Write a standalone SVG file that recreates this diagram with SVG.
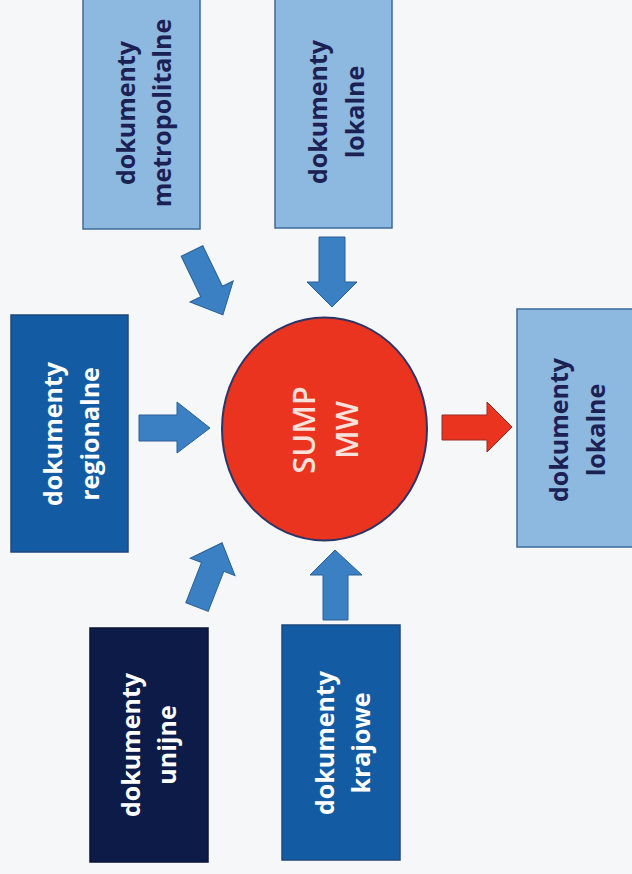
<svg xmlns="http://www.w3.org/2000/svg" width="632" height="874" viewBox="0 0 632 874">
<style>
.bg{fill:#f6f7f9}
.light{fill:#8db8e0;stroke:#3d6c9a;stroke-width:1.5}
.mid{fill:#135ba3;stroke:#1d4a7e;stroke-width:1.5}
.dark{fill:#0c1b47;stroke:#0a1535;stroke-width:1.5}
.arr{fill:#3b80c2;stroke:#2a5f95;stroke-width:1}
.red{fill:#eb3420;stroke:#9b2a24;stroke-width:1}
.ell{fill:#eb3420;stroke:#2c3566;stroke-width:2}
.t{font-family:"Open Sans","Liberation Sans",sans-serif;font-weight:bold;font-size:25px;text-anchor:middle}
.td{fill:#1b2152}
.tw{fill:#ffffff}
.tc{font-family:"Open Sans","Liberation Sans",sans-serif;font-weight:600;font-size:31px;text-anchor:middle;fill:#fbe1dc}
</style>
<rect class="bg" x="0" y="0" width="632" height="874"/>
<g id="connectors">
<g transform="translate(192,251) rotate(64.2)"><polygon class="arr" points="0,-12 45,-12 45,-24 71,0 45,24 45,12 0,12"/></g>
<polygon class="arr" points="319,237 345,237 345,282 357,282 332,307 307,282 319,282"/>
<polygon class="arr" points="139,415 177,415 177,402 210,428 177,453 177,441 139,441"/>
<g transform="translate(197,607) rotate(-68.7)"><polygon class="arr" points="0,-12 43,-12 43,-24 69,0 43,24 43,12 0,12"/></g>
<polygon class="arr" points="323,620 348,620 348,575 362,575 335,550 310,575 323,575"/>
<polygon class="red" points="442,415 487,415 487,402 512,427 487,452 487,440 442,440"/>
</g>
<g id="metropolitalne">
<rect class="light" x="83" y="-2" width="117" height="231"/>
<text class="t td" transform="translate(135,113) rotate(-90)">dokumenty</text>
<text class="t td" transform="translate(171,113) rotate(-90)">metropolitalne</text>
</g>
<g id="lokalne-top">
<rect class="light" x="275" y="-2" width="117" height="230"/>
<text class="t td" transform="translate(327,112) rotate(-90)">dokumenty</text>
<text class="t td" transform="translate(364,112) rotate(-90)">lokalne</text>
</g>
<g id="regionalne">
<rect class="mid" x="11" y="315" width="117" height="237"/>
<text class="t tw" transform="translate(62,434) rotate(-90)">dokumenty</text>
<text class="t tw" transform="translate(99,434) rotate(-90)">regionalne</text>
</g>
<g id="sump">
<ellipse class="ell" cx="324.5" cy="429" rx="102.5" ry="111.5"/>
<text class="tc" transform="translate(315,430) rotate(-90)">SUMP</text>
<text class="tc" transform="translate(358,430) rotate(-90)">MW</text>
</g>
<g id="lokalne-bottom">
<rect class="light" x="517" y="309" width="120" height="238"/>
<text class="t td" transform="translate(568,430) rotate(-90)">dokumenty</text>
<text class="t td" transform="translate(605,430) rotate(-90)">lokalne</text>
</g>
<g id="unijne">
<rect class="dark" x="90" y="628" width="118" height="234"/>
<text class="t tw" transform="translate(140,745) rotate(-90)">dokumenty</text>
<text class="t tw" transform="translate(176,745) rotate(-90)">unijne</text>
</g>
<g id="krajowe">
<rect class="mid" x="282" y="625" width="118" height="235"/>
<text class="t tw" transform="translate(334,743) rotate(-90)">dokumenty</text>
<text class="t tw" transform="translate(370,743) rotate(-90)">krajowe</text>
</g>
</svg>
